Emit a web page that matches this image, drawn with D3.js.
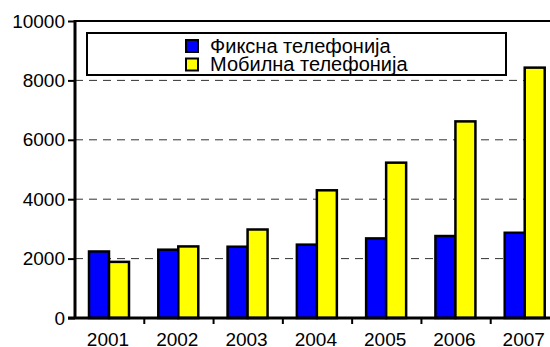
<!DOCTYPE html>
<html>
<head>
<meta charset="utf-8">
<script src="https://cdn.jsdelivr.net/npm/d3@7"></script>
<style>
  html, body { margin: 0; padding: 0; background: #fff; }
  svg { display: block; font-family: Arial, "Liberation Sans", sans-serif; }
</style>
</head>
<body>
<svg id="chart" width="550" height="347"></svg>
<script>
// Телефонија по годинама
const years = ["2001", "2002", "2003", "2004", "2005", "2006", "2007"];
const seriesNames = ["Фиксна телефонија", "Мобилна телефонија"];
const fixedValues = [2240, 2300, 2400, 2470, 2680, 2760, 2870];
const mobileValues = [1890, 2410, 2980, 4300, 5230, 6620, 8430];
const yTicks = [0, 2000, 4000, 6000, 8000, 10000];
const colors = ["#0000ff", "#ffff00"];

const svg = d3.select("#chart");
const plotLeft = 75, plotRight = 560, plotTop = 21, plotBottom = 318;

const x = d3.scaleBand().domain(years).range([plotLeft, plotRight]).padding(0);
const xs = d3.scaleBand().domain([0, 1]).range([14, 54]).padding(0);
const y = d3.scaleLinear().domain([0, 10000]).range([plotBottom, plotTop]);

// dashed grid lines
svg.append("g")
  .selectAll("line")
  .data(yTicks.filter(t => t > 0 && t < 10000))
  .join("line")
  .attr("x1", plotLeft).attr("x2", 550)
  .attr("y1", d => y(d)).attr("y2", d => y(d))
  .attr("stroke", "#333").attr("stroke-width", 1)
  .attr("stroke-dasharray", "8,6");

// top frame line
svg.append("line")
  .attr("x1", plotLeft).attr("x2", 550)
  .attr("y1", y(10000)).attr("y2", y(10000))
  .attr("stroke", "#000").attr("stroke-width", 2);

// bars
const groups = svg.append("g").selectAll("g")
  .data(years.map((yr, i) => ({ yr, vals: [fixedValues[i], mobileValues[i]] })))
  .join("g")
  .attr("transform", d => `translate(${x(d.yr)},0)`);

groups.selectAll("rect")
  .data(d => d.vals.map((v, k) => ({ v, k })))
  .join("rect")
  .attr("x", d => xs(d.k))
  .attr("width", xs.bandwidth())
  .attr("y", d => y(d.v))
  .attr("height", d => y(0) - y(d.v))
  .attr("fill", d => colors[d.k])
  .attr("stroke", "#000")
  .attr("stroke-width", 2.5);

// y axis
const yAxis = svg.append("g")
  .attr("transform", `translate(${plotLeft},0)`)
  .call(d3.axisLeft(y).tickValues(yTicks).tickSize(7).tickPadding(3).tickFormat(d3.format("d")));
yAxis.select(".domain").remove();
yAxis.selectAll(".tick line").attr("stroke", "#000").attr("stroke-width", 2);
yAxis.selectAll("text").attr("font-size", 19).attr("fill", "#000")
  .attr("font-family", "Arial, 'Liberation Sans', sans-serif");
svg.append("line")
  .attr("x1", plotLeft).attr("x2", plotLeft)
  .attr("y1", plotTop - 1).attr("y2", plotBottom + 1)
  .attr("stroke", "#000").attr("stroke-width", 3);

// x axis
const xAxisG = svg.append("g").attr("transform", `translate(0,${plotBottom})`);
xAxisG.append("line")
  .attr("x1", plotLeft - 7).attr("x2", 550)
  .attr("stroke", "#000").attr("stroke-width", 3);
xAxisG.selectAll("line.tk")
  .data(years.slice(1))
  .join("line")
  .attr("class", "tk")
  .attr("x1", d => x(d)).attr("x2", d => x(d))
  .attr("y1", 0).attr("y2", 6)
  .attr("stroke", "#000").attr("stroke-width", 2);
xAxisG.selectAll("text")
  .data(years)
  .join("text")
  .attr("x", d => x(d) + (xs(0) + xs(1) + xs.bandwidth()) / 2 - 1)
  .attr("y", 27.5)
  .attr("text-anchor", "middle")
  .attr("font-size", 19)
  .text(d => d);

// legend
const legend = svg.append("g");
legend.append("rect")
  .attr("x", 87).attr("y", 33).attr("width", 419).attr("height", 42)
  .attr("fill", "#fff").attr("stroke", "#000").attr("stroke-width", 2);
seriesNames.forEach((name, i) => {
  legend.append("rect")
    .attr("x", 186).attr("y", 40 + i * 18.5).attr("width", 12).attr("height", 12)
    .attr("fill", colors[i]).attr("stroke", "#000").attr("stroke-width", 2);
  legend.append("text")
    .attr("x", 210).attr("y", 52.5 + i * 18.5)
    .attr("font-size", 20)
    .text(name);
});
</script>
</body>
</html>
